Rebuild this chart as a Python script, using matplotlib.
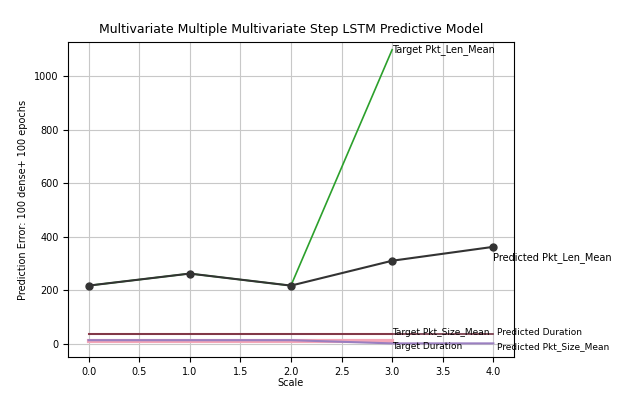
import numpy as np
from matplotlib import pyplot as plt

# x positions of the steps
x_target = [0, 1, 2, 3]
x_pred = [0, 1, 2, 3, 4]

# Pkt_Len_Mean
target_len = [218, 263, 218, 1100]
pred_len = [218, 263, 218, 311, 363]

# Pkt_Size_Mean / Duration (near zero)
target_size = [36, 36, 36, 36]
pred_size = [36, 36, 36, 36, 36]
target_dur = [10, 10, 10, 10]
pred_dur = [14, 14, 14, 2, 2]

labels = ['Target Pkt_Len_Mean', 'Predicted Pkt_Len_Mean',
          'Target Pkt_Size_Mean', 'Predicted Pkt_Size_Mean',
          'Target Duration', 'Predicted Duration']


fig = plt.figure(figsize=(6.38, 3.97), dpi=100)
ax = fig.add_axes([0.107, 0.10, 0.698, 0.795])

ax.plot(x_target, target_len, color='#2ca02c', linewidth=1.2)
ax.plot(x_pred, pred_len, color='#333333', linewidth=1.5, marker='o', markersize=5)
ax.plot(x_target, target_dur, color='#f4a6b8', linewidth=3)
ax.plot(x_pred, pred_dur, color='#9a7fc0', linewidth=1.5)
ax.plot(x_target, target_size, color='#e06070', linewidth=1.5)
ax.plot(x_pred, pred_size, color='#703040', linewidth=1.2)

# labels at the end of each line
fs = 6.5
ax.text(x_target[-1], target_len[-1], labels[0], fontsize=fs + 0.5, va='center')
ax.text(x_pred[-1], pred_len[-1] - 40, labels[1], fontsize=fs + 0.5, va='center')
ax.text(x_target[-1], target_size[-1] + 8, labels[2], fontsize=fs, va='center')
ax.text(x_target[-1], target_dur[-1] - 20, labels[4], fontsize=fs, va='center')
ax.text(x_pred[-1] + 0.04, pred_size[-1] + 8, labels[5], fontsize=fs, va='center')
ax.text(x_pred[-1] + 0.04, pred_dur[-1] - 12, labels[3], fontsize=fs, va='center')

ax.set_xlim(-0.2, 4.2)
ax.set_ylim(-50, 1130)
ax.set_xticks(np.arange(0, 4.5, 0.5))
ax.set_yticks([0, 200, 400, 600, 800, 1000])
ax.tick_params(labelsize=7)
ax.grid(which='both', color='#c8c8c8')

ax.set_title('Multivariate Multiple Multivariate Step LSTM Predictive Model', fontsize=9)
ax.set_xlabel('Scale', fontsize=7, labelpad=1)
ax.set_ylabel('Prediction Error: 100 dense+ 100 epochs', fontsize=7)

fig.savefig('out.png', dpi=100)
